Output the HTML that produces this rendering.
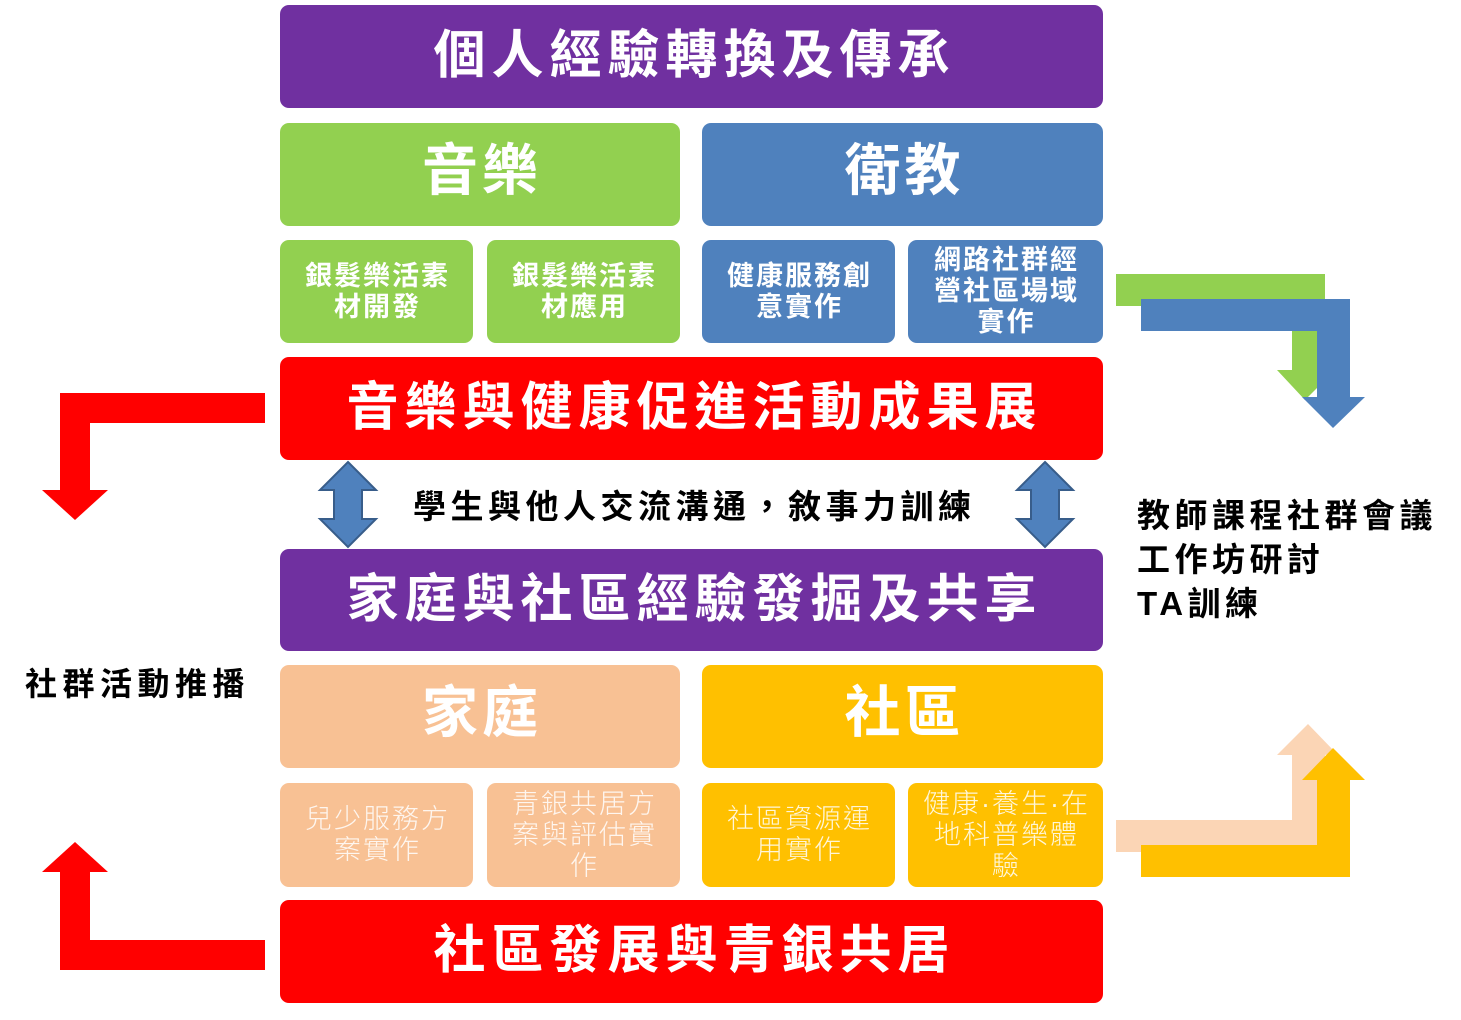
<!DOCTYPE html>
<html><head><meta charset="utf-8">
<style>
html,body{margin:0;padding:0;background:#fff;}
body{width:1461px;height:1020px;position:relative;overflow:hidden;font-family:"Liberation Sans","Noto Sans CJK TC",sans-serif;}
.b{position:absolute;border-radius:9px;display:flex;align-items:center;justify-content:center;text-align:center;color:#fff;font-weight:700;box-sizing:border-box;}
.big{font-size:52px;letter-spacing:6px;padding-left:6px;padding-bottom:12px;}
.mid{font-size:56px;letter-spacing:4px;padding-left:4px;padding-bottom:16px;}
.sm{font-size:27px;line-height:31px;letter-spacing:2px;padding-left:2px;}
.lt{font-weight:300;color:rgba(255,255,255,0.85);}
.t{position:absolute;font-weight:700;color:#000;white-space:nowrap;}
svg{position:absolute;left:0;top:0;}
</style></head><body>
<svg width="1461" height="1020">
<polygon points="265,393 265,423 90,423 90,490 108,490 75,520 42,490 60,490 60,393" fill="#ff0000"/>
<polygon points="265,940 265,970 60,970 60,872 42,872 75,842 108,872 90,872 90,940" fill="#ff0000"/>
<polygon points="1116,274 1325,274 1325,370 1335,370 1305,400 1277,370 1292,370 1292,306 1116,306" fill="#92d050"/>
<polygon points="1141,299 1350,299 1350,397 1365,397 1333,428 1302,397 1317,397 1317,331 1141,331" fill="#4f81bd"/>
<polygon points="1116,820 1292,820 1292,755 1277,755 1308,724 1335,752 1325,755 1325,852 1116,852" fill="#fbd5b5"/>
<polygon points="1141,845 1317,845 1317,780 1302,780 1333,748 1365,780 1350,780 1350,877 1141,877" fill="#ffc000"/>
<polygon points="348,462 376,490 362,490 362,519 376,519 348,547 320,519 334,519 334,490 320,490" fill="#4f81bd" stroke="#385d8a" stroke-width="2"/>
<polygon points="1045,462 1073,490 1059,490 1059,519 1073,519 1045,547 1017,519 1031,519 1031,490 1017,490" fill="#4f81bd" stroke="#385d8a" stroke-width="2"/>
</svg>

<div class="b big" style="left:280px;top:5px;width:823px;height:103px;background:#7030a0;">個人經驗轉換及傳承</div>
<div class="b mid" style="left:280px;top:123px;width:400px;height:103px;background:#92d050;">音樂</div>
<div class="b mid" style="left:702px;top:123px;width:401px;height:103px;background:#4f81bd;">衛教</div>
<div class="b sm" style="left:280px;top:240px;width:193px;height:103px;background:#92d050;">銀髮樂活素<br>材開發</div>
<div class="b sm" style="left:487px;top:240px;width:193px;height:103px;background:#92d050;">銀髮樂活素<br>材應用</div>
<div class="b sm" style="left:702px;top:240px;width:193px;height:103px;background:#4f81bd;">健康服務創<br>意實作</div>
<div class="b sm" style="left:908px;top:240px;width:195px;height:103px;background:#4f81bd;">網路社群經<br>營社區場域<br>實作</div>
<div class="b big" style="left:280px;top:357px;width:823px;height:103px;background:#ff0000;">音樂與健康促進活動成果展</div>
<div class="t" style="left:413px;top:480px;font-size:33px;letter-spacing:4.5px;">學生與他人交流溝通，敘事力訓練</div>
<div class="b big" style="left:280px;top:549px;width:823px;height:102px;background:#7030a0;">家庭與社區經驗發掘及共享</div>
<div class="b mid" style="left:280px;top:665px;width:400px;height:103px;background:#f8c194;">家庭</div>
<div class="b mid" style="left:702px;top:665px;width:401px;height:103px;background:#ffc000;">社區</div>
<div class="b sm lt" style="left:280px;top:783px;width:193px;height:104px;background:#f8c194;">兒少服務方<br>案實作</div>
<div class="b sm lt" style="left:487px;top:783px;width:193px;height:104px;background:#f8c194;">青銀共居方<br>案與評估實<br>作</div>
<div class="b sm lt" style="left:702px;top:783px;width:193px;height:104px;background:#ffc000;">社區資源運<br>用實作</div>
<div class="b sm lt" style="left:908px;top:783px;width:195px;height:104px;background:#ffc000;">健康·養生·在<br>地科普樂體<br>驗</div>
<div class="b big" style="left:280px;top:900px;width:823px;height:103px;background:#ff0000;">社區發展與青銀共居</div>
<div class="t" style="left:1137px;top:494px;font-size:33px;line-height:44px;letter-spacing:4.5px;">教師課程社群會議<br>工作坊研討<br>TA訓練</div>
<div class="t" style="left:25px;top:659px;font-size:32px;letter-spacing:5.5px;">社群活動推播</div>
</body></html>
